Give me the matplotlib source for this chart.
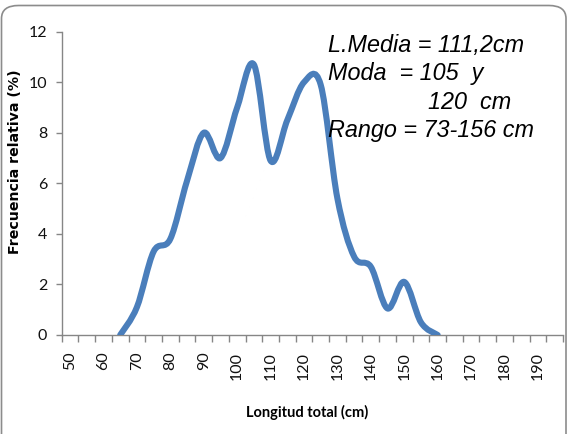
import numpy as np
import matplotlib
matplotlib.use("Agg")
import matplotlib.pyplot as plt
from matplotlib.path import Path
from matplotlib.patches import PathPatch, FancyBboxPatch

# ---- data ----
categories = list(range(50, 200, 5))          # category axis 50..195
label_cats = list(range(50, 200, 10))          # labelled every other category
lengths = [65, 70, 75, 80, 85, 90, 95, 100, 105, 110, 115, 120, 125, 130,
           135, 140, 145, 150, 155, 160]
freq = [0.0, 1.1, 3.3, 3.8, 6.1, 8.0, 7.0, 9.0, 10.7, 6.9, 8.5, 10.0, 9.9,
        5.4, 3.1, 2.7, 1.05, 2.1, 0.5, 0.0]
y_ticks = [0, 2, 4, 6, 8, 10, 12]
notes = ["L.Media = 111,2cm", "Moda  = 105  y", "120  cm", "Rango = 73-156 cm"]

W, H = 568, 434
fig = plt.figure(figsize=(W / 100, H / 100), dpi=100)
fig.patch.set_facecolor("white")

# chart-area border (rounded, partly outside the picture)
border = FancyBboxPatch((1.5 / W, -40 / H), 564.5 / W, (40 + H - 5.5) / H,
                        boxstyle="round,pad=0,rounding_size=0.03",
                        transform=fig.transFigure, facecolor="none",
                        edgecolor="#8c8c8c", linewidth=1.2, clip_on=False)
fig.patches.append(border)

ax = fig.add_axes([61.7 / W, 1 - 335 / H, (563 - 61.7) / W, (335 - 31.7) / H])
ax.set_facecolor("none")

pos = {c: i for i, c in enumerate(categories)}
xs = np.array([pos[c] for c in lengths], dtype=float)
ys = np.array(freq, dtype=float)

# Excel-style smoothed line: cubic Bezier segments through the points
pts = np.column_stack([xs, ys])
verts = [pts[0]]
codes = [Path.MOVETO]
n = len(pts)
for i in range(n - 1):
    p0 = pts[i - 1] if i > 0 else pts[i]
    p1 = pts[i]
    p2 = pts[i + 1]
    p3 = pts[i + 2] if i + 2 < n else pts[i + 1]
    c1 = p1 + (p2 - p0) / 6.0
    c2 = p2 - (p3 - p1) / 6.0
    verts += [c1, c2, p2]
    codes += [Path.CURVE4] * 3
path = Path(verts, codes)
line = PathPatch(path, facecolor="none", edgecolor="#4A7EBB", linewidth=4.4,
                 capstyle="round", joinstyle="round", transform=ax.transData,
                 zorder=3)
ax.add_patch(line)

ax.set_xlim(-0.5, len(categories) - 0.5)
ax.set_ylim(0, 12)

spine_col = "#868686"
for s in ["top", "right"]:
    ax.spines[s].set_visible(False)
for s in ["left", "bottom"]:
    ax.spines[s].set_color(spine_col)
    ax.spines[s].set_linewidth(1.0)

tick_font = dict(family="Lato", size=11.5)
ax.set_yticks(y_ticks)
ax.set_yticklabels([str(v) for v in y_ticks], **tick_font)
ax.tick_params(axis="y", direction="out", length=4.5, color=spine_col,
               width=1.0, pad=6, labelcolor="#111111")

# category boundaries as major ticks, labels at category centres as minor ticks
ax.set_xticks(np.arange(-0.5, len(categories), 1.0))
ax.set_xticklabels([])
ax.tick_params(axis="x", which="major", direction="out", length=5,
               color=spine_col, width=1.0)
ax.set_xticks([pos[c] for c in label_cats], minor=True)
ax.set_xticklabels([str(c) for c in label_cats], minor=True, rotation=90,
                   **tick_font)
ax.tick_params(axis="x", which="minor", length=0, pad=12, labelcolor="#111111")

fig.text(15 / W, 1 - 162 / H, "Frecuencia relativa (%)", rotation=90,
         ha="center", va="center", family="DejaVu Sans", weight="bold",
         size=10.2)
fig.text(307 / W, 1 - 412 / H, "Longitud total (cm)", ha="center",
         va="center", family="Lato", weight="bold", size=10.5)

note_font = dict(family="Liberation Sans", style="italic", size=16.8,
                 color="black")
fig.text(328 / W, 1 - 52 / H, notes[0], ha="left", va="baseline", **note_font)
fig.text(328 / W, 1 - 80 / H, notes[1], ha="left", va="baseline", **note_font)
fig.text(428 / W, 1 - 109 / H, notes[2], ha="left", va="baseline", **note_font)
fig.text(328 / W, 1 - 137 / H, notes[3], ha="left", va="baseline", **note_font)

fig.savefig("out.png", dpi=100)
